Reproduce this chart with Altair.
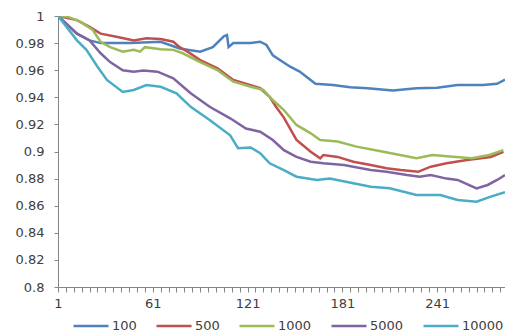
import altair as alt
import pandas as pd

series_names = ["100", "500", "1000", "5000", "10000"]
colors = ["#4F81BD", "#C0504D", "#9BBB59", "#8064A2", "#4BACC6"]

x_100 = [1, 13, 21, 28, 47, 66, 78, 91, 99, 106, 108, 109, 112, 123, 129, 133, 137, 148, 154, 164,
         175, 186, 197, 213, 228, 241, 254, 270, 279, 284]
y_100 = [1.0, 0.987, 0.982, 0.980, 0.980, 0.981, 0.976, 0.9737, 0.977, 0.985, 0.986, 0.977, 0.980, 0.980,
         0.981, 0.9786, 0.971, 0.9626, 0.959, 0.950, 0.949, 0.9474, 0.9467, 0.945, 0.9467, 0.947, 0.949,
         0.949, 0.950, 0.953]

x_500 = [1, 13, 21, 28, 38, 49, 57, 66, 74, 78, 83, 91, 102, 112, 123, 129, 135, 139, 144, 152,
         161, 167, 169, 178, 188, 199, 209, 218, 229, 237, 247, 260, 275, 283]
y_500 = [1.0, 0.997, 0.992, 0.987, 0.9847, 0.982, 0.9835, 0.983, 0.981, 0.977, 0.9737, 0.9675, 0.9614,
         0.9528, 0.949, 0.9467, 0.9404, 0.933, 0.925, 0.9085, 0.8998, 0.895, 0.8974, 0.896, 0.8925, 0.890,
         0.8876, 0.8863, 0.885, 0.8888, 0.8913, 0.8937, 0.896, 0.8998]

x_1000 = [1, 7, 15, 23, 28, 34, 42, 49, 53, 56, 66, 74, 80, 91, 102, 112, 123, 131, 137, 144,
          152, 161, 167, 178, 190, 207, 228, 238, 253, 263, 274, 283]
y_1000 = [1.0, 0.9995, 0.9958, 0.9897, 0.981, 0.977, 0.9737, 0.975, 0.9737, 0.977, 0.9754, 0.975, 0.9725,
          0.966, 0.960, 0.9515, 0.9478, 0.9454, 0.938, 0.9306, 0.9196, 0.9134, 0.9085, 0.9073, 0.9036,
          0.8998, 0.895, 0.8974, 0.896, 0.895, 0.8974, 0.901]

x_5000 = [1, 13, 21, 28, 34, 42, 49, 55, 64, 74, 85, 97, 110, 120, 129, 137, 144, 152, 161, 169,
          182, 199, 209, 222, 230, 237, 247, 254, 266, 273, 279, 284]
y_5000 = [1.0, 0.987, 0.982, 0.9725, 0.966, 0.960, 0.9589, 0.9597, 0.9589, 0.954, 0.943, 0.933, 0.9245,
          0.917, 0.9146, 0.9085, 0.901, 0.896, 0.8925, 0.8913, 0.890, 0.8863, 0.885, 0.8826, 0.8814,
          0.8826, 0.880, 0.879, 0.8728, 0.8753, 0.879, 0.8826]

x_10000 = [1, 13, 19, 26, 32, 42, 49, 57, 66, 76, 85, 97, 110, 115, 123, 129, 135, 144, 152, 165,
           173, 188, 199, 211, 228, 243, 254, 266, 275, 284]
y_10000 = [1.0, 0.982, 0.975, 0.9626, 0.9528, 0.944, 0.9454, 0.949, 0.9478, 0.943, 0.933, 0.9232, 0.912,
           0.9024, 0.903, 0.8987, 0.8913, 0.8863, 0.8814, 0.879, 0.880, 0.8765, 0.874, 0.8728, 0.8679,
           0.8679, 0.8642, 0.863, 0.8667, 0.870]

y_ticks = [0.8, 0.82, 0.84, 0.86, 0.88, 0.9, 0.92, 0.94, 0.96, 0.98, 1.0]
x_ticks = list(range(1, 285, 5))

rows = []
for name, xs, ys in zip(series_names,
                        [x_100, x_500, x_1000, x_5000, x_10000],
                        [y_100, y_500, y_1000, y_5000, y_10000]):
    for i, (x, y) in enumerate(zip(xs, ys)):
        rows.append({"series": name, "t": x, "v": y, "k": series_names.index(name)})
df = pd.DataFrame(rows)

FONT = "DejaVu Sans"
LBL = "#404040"
AX = "#868686"

chart = alt.Chart(df).mark_line(strokeWidth=2.5, clip=True).encode(
    x=alt.X("t:Q",
            scale=alt.Scale(domain=[1, 284], nice=False, zero=False),
            axis=alt.Axis(values=x_ticks, title=None, grid=False, tickSize=5, labelPadding=5,
                          labelExpr="(datum.value - 1) % 60 == 0 ? datum.label : ''",
                          labelOverlap=False, labelFlush=False, labelFont=FONT, labelFontSize=13,
                          labelColor=LBL, domainColor=AX, tickColor=AX)),
    y=alt.Y("v:Q",
            scale=alt.Scale(domain=[0.8, 1.0], nice=False, zero=False),
            axis=alt.Axis(values=y_ticks, format="~g", title=None, grid=False, tickSize=4,
                          labelPadding=10, labelFont=FONT, labelFontSize=13, labelColor=LBL,
                          domainColor=AX, tickColor=AX, labelOverlap=False, labelFlush=False)),
    color=alt.Color("series:N",
                    scale=alt.Scale(domain=series_names, range=colors),
                    sort=series_names,
                    legend=alt.Legend(orient="none", legendX=14, legendY=291, direction="horizontal",
                                      title=None, symbolType="stroke", symbolSize=1225,
                                      symbolStrokeWidth=2.5, labelOffset=2, columnPadding=14,
                                      labelFont=FONT, labelFontSize=13, labelColor=LBL, padding=0)),
    order=alt.Order("t:Q"),
).properties(
    width=447,
    height=271,
    autosize=alt.AutoSizeParams(type="none"),
    padding={"left": 58, "top": 16, "right": 0, "bottom": 49},
    background="white",
).configure_view(stroke=None)

chart.save("out.html", embed_options={"renderer": "svg", "actions": False})
